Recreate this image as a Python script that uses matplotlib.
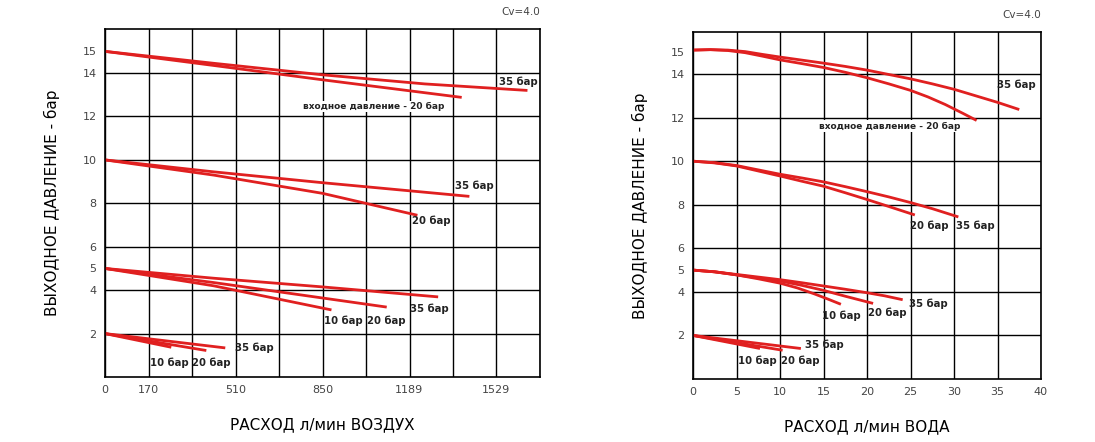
import matplotlib.pyplot as plt

# left chart: air flow, l/min
air_x_ticks = [0, 170, 510, 850, 1189, 1529]
air_curves = {
    "top_20": ([0, 425, 850, 1394], [15.0, 14.35, 13.69, 12.88]),
    "top_35": ([0, 425, 850, 1250, 1651], [15.0, 14.45, 13.92, 13.5, 13.2]),
    "mid_20": ([0, 425, 850, 1221], [10.0, 9.3, 8.46, 7.45]),
    "mid_35": ([0, 425, 850, 1424], [10.0, 9.45, 8.95, 8.32]),
    "low_10": ([0, 425, 885], [5.0, 4.2, 3.09]),
    "low_20": ([0, 425, 1101], [5.0, 4.35, 3.22]),
    "low_35": ([0, 425, 850, 1302], [5.0, 4.55, 4.15, 3.69]),
    "bot_10": ([0, 259], [2.0, 1.37]),
    "bot_20": ([0, 396], [2.0, 1.22]),
    "bot_35": ([0, 470], [2.0, 1.34]),
}
air_labels = [
    (1615, 13.6, "35 бар"), (1051, 12.46, "входное давление - 20 бар"),
    (1445, 8.8, "35 бар"), (1276, 7.2, "20 бар"),
    (930, 2.6, "10 бар"), (1101, 2.6, "20 бар"), (1269, 3.15, "35 бар"),
    (250, 0.66, "10 бар"), (416, 0.66, "20 бар"), (585, 1.37, "35 бар"),
]

# right chart: water flow, l/min
water_x_ticks = [0, 5, 10, 15, 20, 25, 30, 35, 40]
water_curves = {
    "top_20": ([0, 2, 4, 6, 8, 10, 12.5, 15, 17.5, 20, 22.5, 25, 27, 29, 31, 32.6],
               [15.1, 15.12, 15.08, 14.98, 14.82, 14.65, 14.48, 14.3, 14.08, 13.83, 13.55, 13.25, 12.95, 12.6, 12.2, 11.87]),
    "top_35": ([0, 2, 4, 6, 8, 10, 12.5, 15, 17.5, 20, 22.5, 25, 27.5, 30, 32.5, 35, 37.5],
               [15.1, 15.12, 15.1, 15.03, 14.9, 14.78, 14.64, 14.5, 14.35, 14.18, 13.98, 13.78, 13.55, 13.3, 13.0, 12.7, 12.37]),
    "mid_20": ([0, 2.5, 5, 7.5, 10, 12.5, 15, 17.5, 20, 22.5, 25.5],
               [10.0, 9.92, 9.78, 9.55, 9.32, 9.08, 8.85, 8.55, 8.24, 7.92, 7.53]),
    "mid_35": ([0, 2.5, 5, 7.5, 10, 12.5, 15, 17.5, 20, 22.5, 25, 27.5, 30.5],
               [10.0, 9.93, 9.8, 9.6, 9.4, 9.23, 9.05, 8.83, 8.6, 8.36, 8.1, 7.82, 7.44]),
    "low_10": ([0, 2.5, 5, 7.5, 10, 12, 14, 15.5, 17], [5.0, 4.92, 4.78, 4.6, 4.4, 4.18, 3.9, 3.67, 3.43]),
    "low_20": ([0, 2.5, 5, 7.5, 10, 12.5, 15, 17.5, 20.7], [5.0, 4.92, 4.78, 4.64, 4.5, 4.3, 4.07, 3.8, 3.47]),
    "low_35": ([0, 2.5, 5, 7.5, 10, 12.5, 15, 17.5, 20, 22, 24.1], [5.0, 4.92, 4.8, 4.68, 4.56, 4.42, 4.27, 4.12, 3.96, 3.82, 3.64]),
    "bot_10": ([0, 7.7], [2.0, 1.40]),
    "bot_20": ([0, 10.3], [2.0, 1.32]),
    "bot_35": ([0, 12.4], [2.0, 1.40]),
}
water_labels = [
    (37.2, 13.5, "35 бар"), (22.6, 11.6, "входное давление - 20 бар"),
    (27.2, 7.04, "20 бар"), (32.4, 7.04, "35 бар"),
    (17.1, 2.92, "10 бар"), (22.3, 3.05, "20 бар"), (27.1, 3.46, "35 бар"),
    (7.4, 0.84, "10 бар"), (12.3, 0.84, "20 бар"), (15.1, 1.58, "35 бар"),
]

y_ticks = [2, 4, 5, 6, 8, 10, 12, 14, 15]
y_grid = [2, 4, 6, 8, 10, 12, 14]
red = "#e02020"

fig = plt.figure(figsize=(10.95, 4.42), dpi=100)
ax1 = fig.add_axes([105/1095, 1-377/442, 435/1095, 348/442])
ax2 = fig.add_axes([693/1095, 1-379/442, 348/1095, 347/442])


def draw(ax, curves, labels, xmax, xgrid, xticks, ytop, xlabel):
    for xs, ys in curves.values():
        ax.plot(xs, ys, color=red, lw=2, solid_capstyle="butt")
    for x, y, t in labels:
        long = "входное" in t
        txt = ax.text(x, y, t, ha="center", va="center", fontsize=6.5 if long else 7.3,
                      fontweight="bold", color="#222222")
        if long:
            txt.set_bbox(dict(facecolor="white", edgecolor="none", pad=1))
    ax.set_xlim(0, xmax)
    ax.set_ylim(0, ytop)
    for g in xgrid:
        ax.axvline(g, color="black", lw=1.0, zorder=0)
    for g in y_grid:
        ax.axhline(g, color="black", lw=1.0, zorder=0)
    ax.set_xticks(xticks)
    ax.set_xticklabels([str(v) for v in xticks])
    ax.set_yticks(y_ticks)
    ax.tick_params(length=0, labelsize=8, labelcolor="#444444", pad=6)
    for s in ax.spines.values():
        s.set_linewidth(1.2)
    ax.set_xlabel(xlabel, fontsize=11, labelpad=16)
    ax.set_ylabel("ВЫХОДНОЕ ДАВЛЕНИЕ - бар", fontsize=11, labelpad=16)
    ax.text(1.0, 1.035, "Cv=4.0", transform=ax.transAxes, ha="right", va="bottom",
            fontsize=7.5, color="#444444")


draw(ax1, air_curves, air_labels, 1700, range(0, 1701, 170), air_x_ticks, 16.03,
     "РАСХОД л/мин ВОЗДУХ")
draw(ax2, water_curves, water_labels, 40, range(0, 41, 5), water_x_ticks, 15.93,
     "РАСХОД л/мин ВОДА")

fig.savefig("out.png", dpi=100)
